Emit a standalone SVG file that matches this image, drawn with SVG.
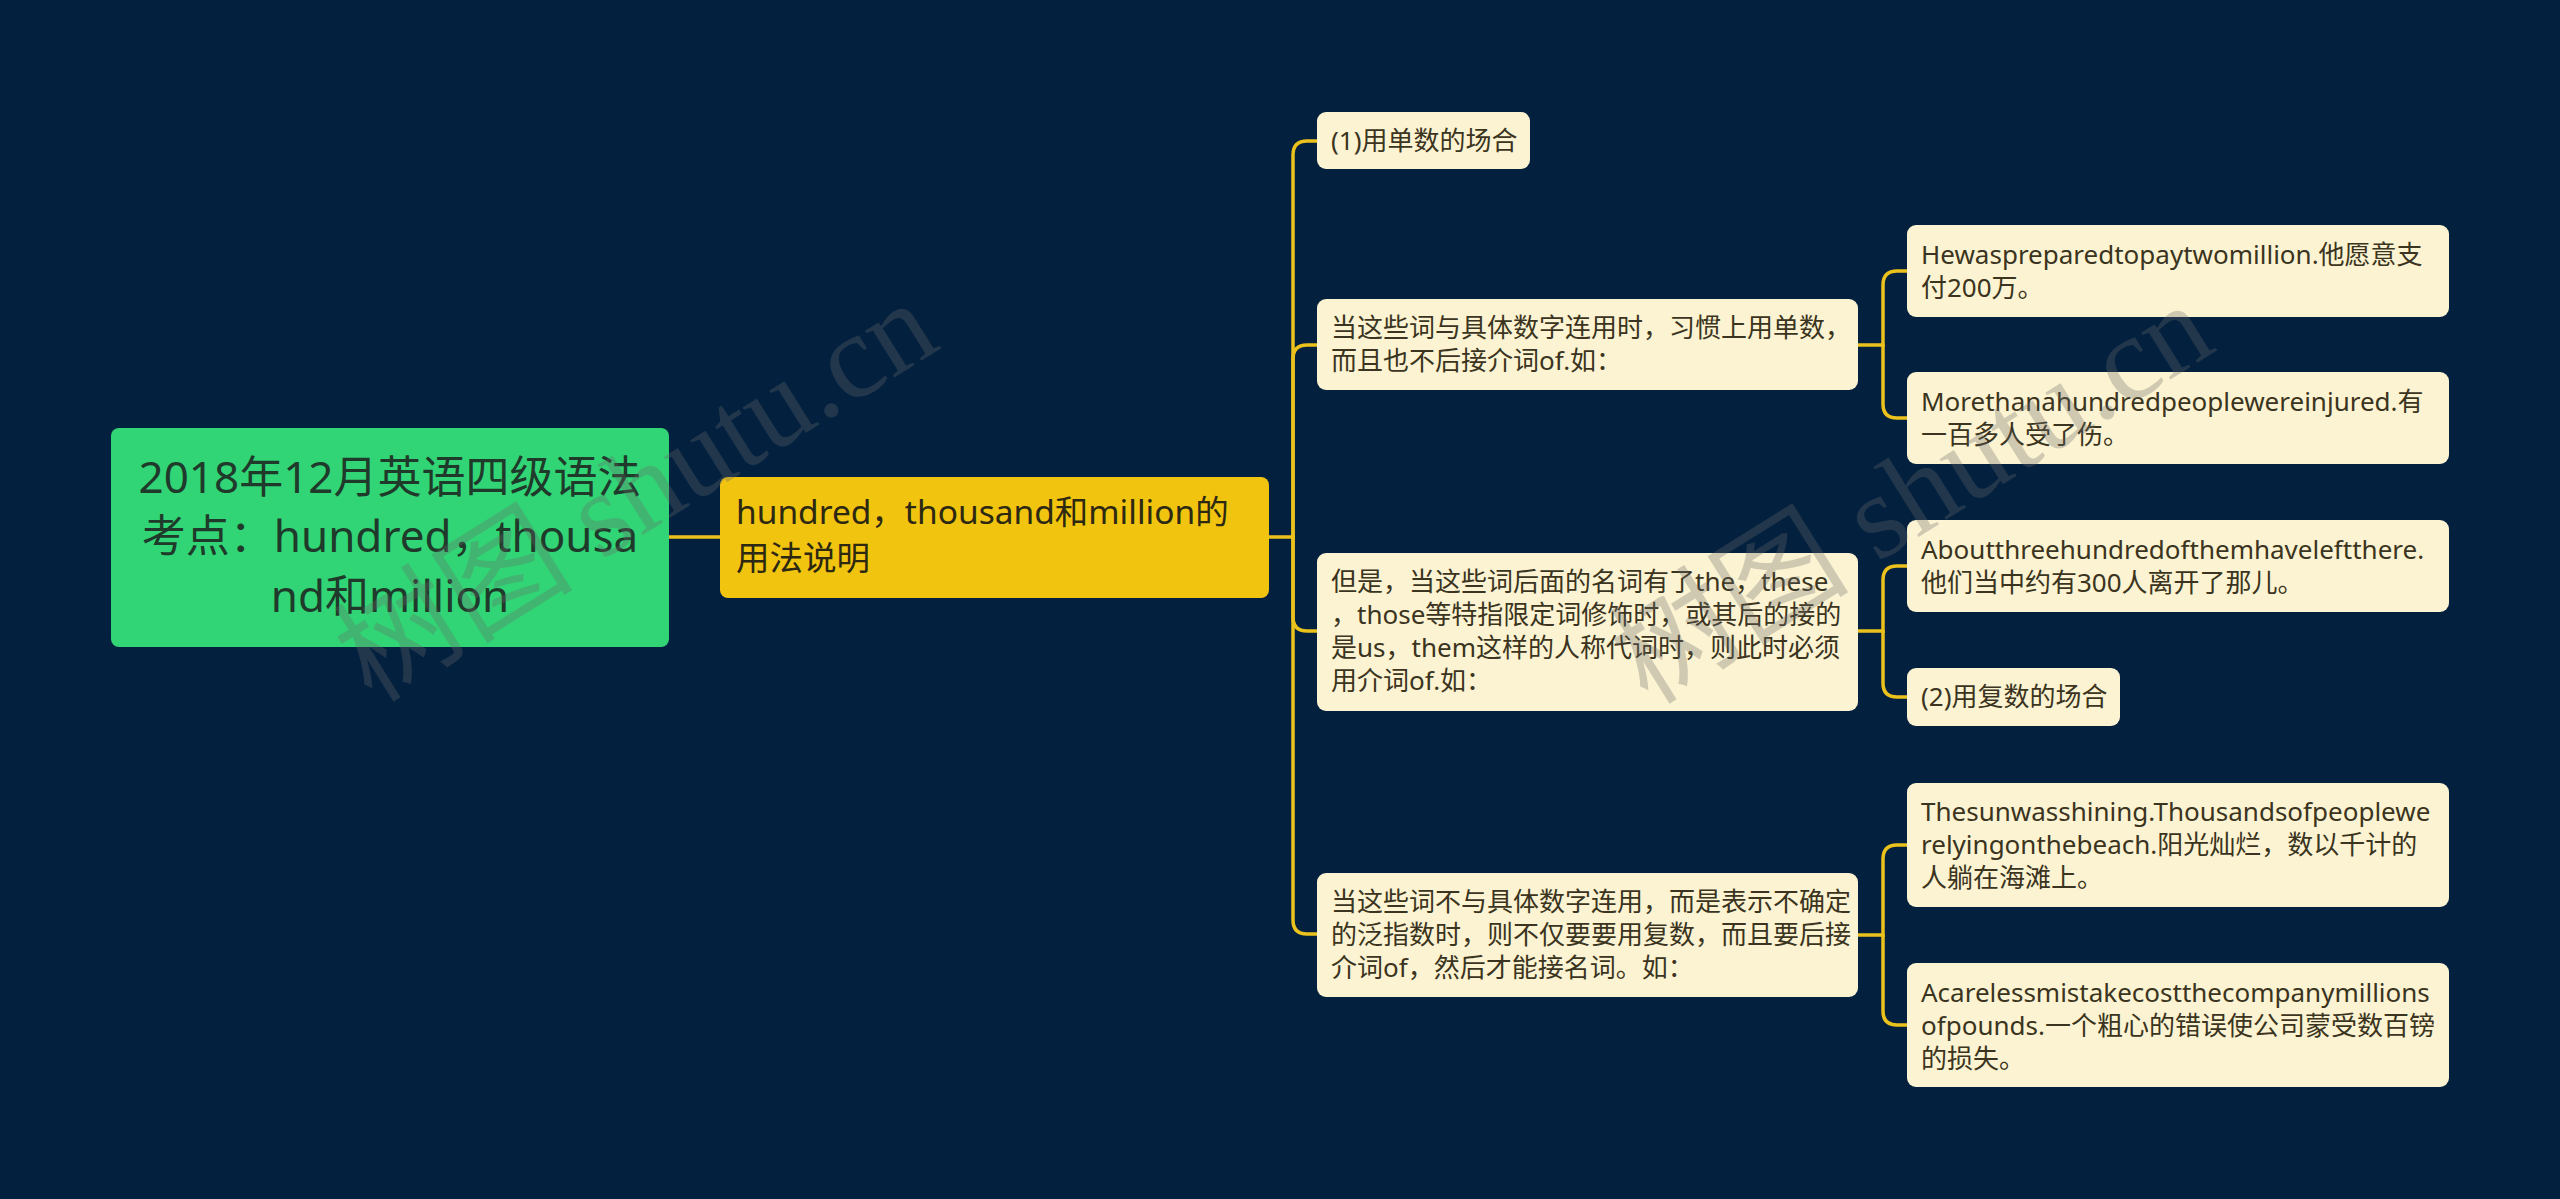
<svg xmlns="http://www.w3.org/2000/svg" width="2560" height="1199" viewBox="0 0 2560 1199">
<style>
.bg{fill:#03213f}
.conn{fill:none;stroke:#ebc11c;stroke-width:3.5;stroke-linecap:round}
.root rect{fill:#31d575}
.root text{font-family:"Noto Sans","Noto Sans CJK SC",sans-serif;font-size:44px;fill:#1f3a2b;text-anchor:middle}
.main rect{fill:#f1c40f}
.main text{font-family:"Noto Sans","Noto Sans CJK SC",sans-serif;font-size:33.5px;fill:#2d2812}
.leaf rect{fill:#fcf3d2}
.leaf text{font-family:"Noto Sans","Noto Sans CJK SC",sans-serif;font-size:26px;fill:#3a3420}
.wm{font-family:"Liberation Serif","Noto Sans CJK SC",serif;font-size:120px;fill:#6a6a6a;opacity:0.3}
</style>
<rect class="bg" x="0" y="0" width="2560" height="1199"/>
<g id="connectors">
<path class="conn" d="M669,537 H720"/>
<path class="conn" d="M1269,537 H1293 V155 Q1293,141 1307,141 H1317"/>
<path class="conn" d="M1293,537 V359 Q1293,345 1307,345 H1317"/>
<path class="conn" d="M1293,537 V617 Q1293,631 1307,631 H1317"/>
<path class="conn" d="M1293,537 V920 Q1293,934 1307,934 H1317"/>
<path class="conn" d="M1858,345 H1883 V285 Q1883,271 1897,271 H1907"/>
<path class="conn" d="M1883,345 V404 Q1883,418 1897,418 H1907"/>
<path class="conn" d="M1858,631 H1883 V580 Q1883,566 1897,566 H1907"/>
<path class="conn" d="M1883,631 V683 Q1883,697 1897,697 H1907"/>
<path class="conn" d="M1858,935 H1883 V859 Q1883,845 1897,845 H1907"/>
<path class="conn" d="M1883,935 V1011 Q1883,1025 1897,1025 H1907"/>
</g>
<g id="root" class="root">
<rect x="111" y="428" width="558" height="219" rx="8"/>
<text x="390" y="493">2018年12月英语四级语法</text>
<text x="390" y="552">考点：hundred，thousa</text>
<text x="390" y="612">nd和million</text>
</g>
<g id="main" class="main">
<rect x="720" y="477" width="549" height="121" rx="8"/>
<text x="736" y="524">hundred，thousand和million的</text>
<text x="736" y="570">用法说明</text>
</g>
<g id="n1" class="leaf">
<rect x="1317" y="112" width="213" height="57" rx="9"/>
<text x="1331" y="150">(1)用单数的场合</text>
</g>
<g id="n2" class="leaf">
<rect x="1317" y="299" width="541" height="91" rx="9"/>
<text x="1331" y="337">当这些词与具体数字连用时，习惯上用单数，</text>
<text x="1331" y="370">而且也不后接介词of.如：</text>
</g>
<g id="n3" class="leaf">
<rect x="1317" y="553" width="541" height="158" rx="9"/>
<text x="1331" y="591">但是，当这些词后面的名词有了the，these</text>
<text x="1331" y="624">，those等特指限定词修饰时，或其后的接的</text>
<text x="1331" y="657">是us，them这样的人称代词时，则此时必须</text>
<text x="1331" y="690">用介词of.如：</text>
</g>
<g id="n4" class="leaf">
<rect x="1317" y="873" width="541" height="124" rx="9"/>
<text x="1331" y="911">当这些词不与具体数字连用，而是表示不确定</text>
<text x="1331" y="944">的泛指数时，则不仅要要用复数，而且要后接</text>
<text x="1331" y="977">介词of，然后才能接名词。如：</text>
</g>
<g id="a" class="leaf">
<rect x="1907" y="225" width="542" height="92" rx="9"/>
<text x="1921" y="264">Hewaspreparedtopaytwomillion.他愿意支</text>
<text x="1921" y="297">付200万。</text>
</g>
<g id="b" class="leaf">
<rect x="1907" y="372" width="542" height="92" rx="9"/>
<text x="1921" y="411">Morethanahundredpeoplewereinjured.有</text>
<text x="1921" y="444">一百多人受了伤。</text>
</g>
<g id="c" class="leaf">
<rect x="1907" y="520" width="542" height="92" rx="9"/>
<text x="1921" y="559">Aboutthreehundredofthemhaveleftthere.</text>
<text x="1921" y="592">他们当中约有300人离开了那儿。</text>
</g>
<g id="d" class="leaf">
<rect x="1907" y="668" width="213" height="58" rx="9"/>
<text x="1921" y="706">(2)用复数的场合</text>
</g>
<g id="e" class="leaf">
<rect x="1907" y="783" width="542" height="124" rx="9"/>
<text x="1921" y="821">Thesunwasshining.Thousandsofpeoplewe</text>
<text x="1921" y="854">relyingonthebeach.阳光灿烂，数以千计的</text>
<text x="1921" y="887">人躺在海滩上。</text>
</g>
<g id="f" class="leaf">
<rect x="1907" y="963" width="542" height="124" rx="9"/>
<text x="1921" y="1002">Acarelessmistakecostthecompanymillions</text>
<text x="1921" y="1035">ofpounds.一个粗心的错误使公司蒙受数百镑</text>
<text x="1921" y="1068">的损失。</text>
</g>
<g id="watermarks">
<text class="wm" transform="translate(372,704) rotate(-32)">树图 shutu.cn</text>
<text class="wm" transform="translate(1648,706) rotate(-32)">树图 shutu.cn</text>
</g>
</svg>
